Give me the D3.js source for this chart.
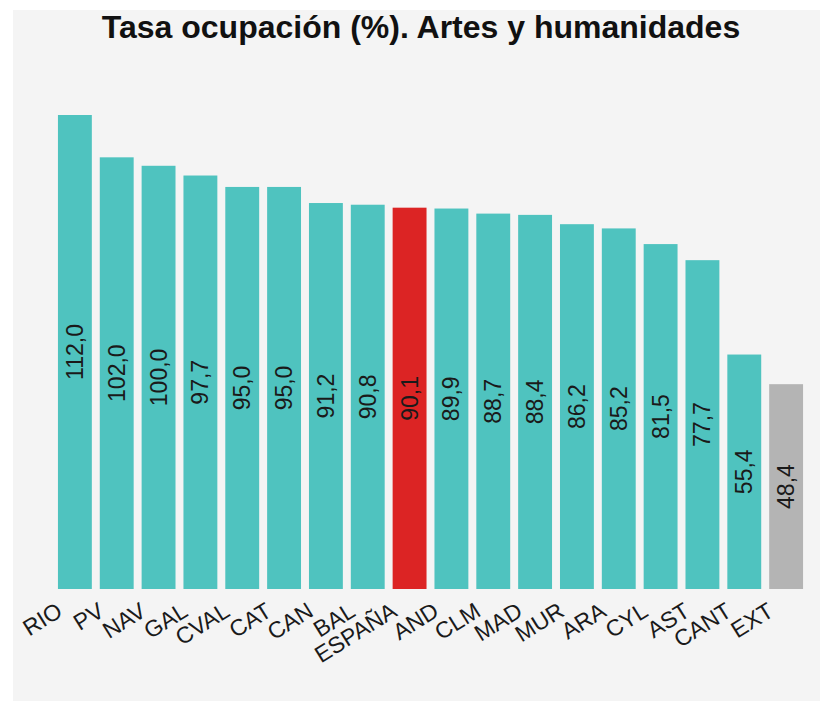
<!DOCTYPE html>
<html>
<head>
<meta charset="utf-8">
<script src="https://cdn.jsdelivr.net/npm/d3@7"></script>
<style>
  body { margin: 0; background: #fff; }
  text { font-family: "Liberation Sans", Arial, sans-serif; }
</style>
</head>
<body>
<svg id="chart" width="820" height="701"></svg>
<script>
// data
var regions = ['RIO', 'PV', 'NAV', 'GAL', 'CVAL', 'CAT', 'CAN', 'BAL', 'ESPAÑA',
  'AND', 'CLM', 'MAD', 'MUR', 'ARA', 'CYL', 'AST', 'CANT', 'EXT'];
var rates = [112.0, 102.0, 100.0, 97.7, 95.0, 95.0, 91.2, 90.8, 90.1,
  89.9, 88.7, 88.4, 86.2, 85.2, 81.5, 77.7, 55.4, 48.4];
var title = 'Tasa ocupación (%). Artes y humanidades';

var W = 820, H = 701;
var svg = d3.select('#chart');

// panel
svg.append('rect')
  .attr('x', 13).attr('y', 10)
  .attr('width', W - 13).attr('height', H - 10)
  .style('fill', '#f4f4f4');

var x = d3.scaleBand()
  .domain(regions)
  .range([50, 811])
  .paddingInner(0.19)
  .paddingOuter(0.19);

var y = d3.scaleLinear()
  .domain([0, d3.max(rates)])
  .range([589, 115]);

var data = regions.map((r, i) => ({ name: r, value: rates[i] }));

var color = (d) => {
  if (d.name == 'ESPAÑA') return '#dc2424';
  if (d.name == 'EXT') return '#b4b4b4';
  return '#4fc3bf';
};

var fmt = (v) => v.toFixed(1).replace('.', ',');

// bars
svg.selectAll('.bar')
  .data(data)
  .enter()
  .append('rect')
  .attr('class', 'bar')
  .attr('x', (d) => x(d.name))
  .attr('y', (d) => y(d.value))
  .attr('width', x.bandwidth())
  .attr('height', (d) => y(0) - y(d.value))
  .style('fill', color);

// value labels, vertical, centred in bar
svg.selectAll('.val')
  .data(data)
  .enter()
  .append('text')
  .attr('class', 'val')
  .attr('transform', (d) => {
    var cx = x(d.name) + x.bandwidth() / 2;
    var cy = (y(d.value) + y(0)) / 2;
    return 'translate(' + cx + ',' + cy + ')rotate(-90)';
  })
  .attr('text-anchor', 'middle')
  .attr('dy', '0.35em')
  .style('font-size', '23px')
  .style('fill', '#1a1a1a')
  .text((d) => fmt(d.value));

// x axis labels
svg.selectAll('.tick-label')
  .data(regions)
  .enter()
  .append('text')
  .attr('class', 'tick-label')
  .attr('transform', (d) => {
    var cx = x(d) + x.bandwidth() / 2 - 11;
    return 'translate(' + cx + ',' + 615 + ')rotate(-32)';
  })
  .attr('text-anchor', 'end')
  .style('font-size', '23px')
  .style('fill', '#1a1a1a')
  .text((d) => d);

// title
svg.append('text')
  .attr('x', 421)
  .attr('y', 38)
  .attr('text-anchor', 'middle')
  .style('font-size', '32px')
  .style('font-weight', 'bold')
  .style('fill', '#111')
  .text(title);
</script>
</body>
</html>
